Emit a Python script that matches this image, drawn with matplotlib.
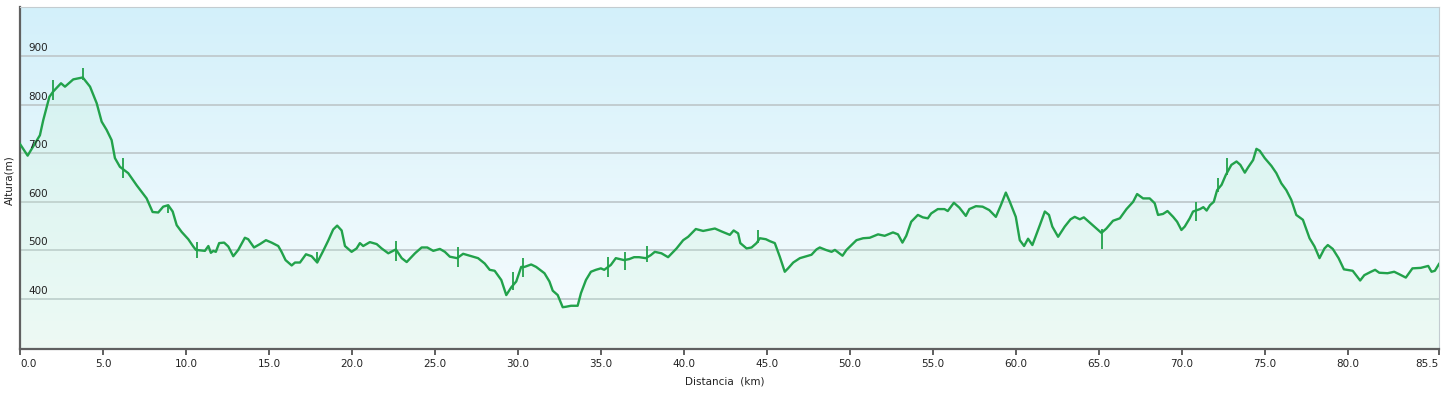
import numpy as np
import matplotlib
matplotlib.use("Agg")
from matplotlib import pyplot as plt
from matplotlib import transforms

# profile (km, m)
dist_km = [0.0, 0.46, 1.2, 1.4, 1.77, 2.0, 2.47, 2.71, 3.21, 3.78, 4.22, 4.62, 4.92, 5.22,
           5.52, 5.72, 6.02, 6.52, 7.03, 7.63, 7.99, 8.33, 8.63, 8.93, 9.2, 9.44, 9.74,
           10.14, 10.44, 10.6, 11.14, 11.35, 11.5, 11.65, 11.8, 12.0, 12.3, 12.55, 12.85,
           13.15, 13.55, 13.75, 14.1, 14.46, 14.82, 15.16, 15.56, 15.76, 16.0, 16.37, 16.57,
           16.87, 17.23, 17.57, 17.91, 18.27, 18.57, 18.87, 19.11, 19.38, 19.58, 19.98,
           20.28, 20.48, 20.68, 21.08, 21.49, 21.79, 22.19, 22.65, 23.0, 23.3, 23.8, 24.2,
           24.54, 24.9, 25.3, 25.6, 25.9, 26.34, 26.7, 27.1, 27.6, 28.0, 28.3, 28.6, 29.0,
           29.3, 29.6, 29.9, 30.2, 30.4, 30.8, 31.1, 31.6, 31.9, 32.1, 32.4, 32.7, 32.9,
           33.2, 33.6, 33.8, 34.1, 34.4, 34.7, 35.0, 35.2, 35.6, 35.9, 36.4, 36.7, 37.0,
           37.3, 37.7, 38.0, 38.25, 38.65, 39.05, 39.56, 39.96, 40.26, 40.72, 41.16, 41.87,
           42.27, 42.77, 43.0, 43.27, 43.4, 43.78, 44.08, 44.38, 44.58, 44.94, 45.18, 45.48,
           45.78, 46.08, 46.28, 46.59, 46.99, 47.39, 47.69, 47.99, 48.19, 48.55, 48.9, 49.1,
           49.56, 49.8, 50.4, 50.8, 51.2, 51.7, 52.1, 52.6, 52.9, 53.17, 53.4, 53.7, 54.1,
           54.4, 54.7, 54.9, 55.3, 55.7, 55.9, 56.27, 56.6, 56.99, 57.2, 57.6, 58.0, 58.4,
           58.8, 59.1, 59.4, 59.64, 60.0, 60.24, 60.5, 60.74, 61.0, 61.45, 61.75, 62.0,
           62.2, 62.55, 62.95, 63.3, 63.55, 63.86, 64.1, 64.4, 64.86, 65.16, 65.46, 65.86,
           66.27, 66.67, 67.07, 67.31, 67.67, 68.07, 68.37, 68.57, 68.87, 69.14, 69.48,
           69.72, 69.98, 70.18, 70.48, 70.68, 71.1, 71.3, 71.5, 71.7, 71.93, 72.13, 72.4,
           72.65, 72.99, 73.3, 73.53, 73.8, 74.0, 74.3, 74.5, 74.7, 75.0, 75.4, 75.7, 76.0,
           76.3, 76.6, 76.9, 77.3, 77.7, 78.0, 78.3, 78.6, 78.8, 79.1, 79.45, 79.77, 80.3,
           80.5, 80.75, 81.0, 81.4, 81.65, 81.9, 82.4, 82.8, 83.1, 83.5, 83.9, 84.4, 84.85,
           85.05, 85.25, 85.5]
alt_m = [719, 695, 737, 768, 816, 827, 844, 837, 852, 856, 837, 803, 765, 748,
         727, 690, 672, 659, 634, 607, 579, 578, 590, 593, 580, 552, 538,
         523, 508, 501, 499, 509, 495, 499, 497, 515, 516, 508, 488,
         501, 526, 523, 506, 513, 521, 516, 509, 497, 480, 469, 475,
         475, 492, 488, 475, 499, 520, 543, 551, 541, 509, 497,
         504, 515, 509, 517, 513, 504, 494, 502, 484, 476, 494, 506,
         506, 499, 503, 497, 487, 484, 493, 489, 484, 473, 460, 458, 439,
         408, 424, 436, 466, 466, 471, 466, 453, 436, 417, 408, 383, 384,
         386, 386, 412, 439, 456, 460, 463, 460, 470, 484, 480, 482, 486,
         486, 484, 490, 497, 494, 486, 504, 521, 528, 544, 540, 545,
         539, 532, 541, 535, 515, 504, 506, 515, 525, 523, 519, 515,
         487, 456, 463, 475, 484, 488, 491, 502, 506, 501, 497, 501,
         489, 501, 521, 525, 526, 533, 530, 537, 533, 516, 530, 559, 573,
         568, 566, 576, 585, 585, 581, 598, 588, 571, 585, 591, 590, 583,
         569, 593, 619, 600, 569, 521, 509, 524, 511, 552, 580, 573,
         549, 528, 549, 564, 569, 564, 568, 559, 545, 536, 545, 561,
         566, 585, 600, 616, 607, 607, 597, 573, 575, 581, 569,
         559, 542, 549, 566, 580, 585, 589, 582, 593, 600, 624, 635,
         655, 676, 683, 676, 660, 671, 686, 709, 705, 690, 674, 659, 638,
         624, 604, 573, 563, 525, 508, 484, 504, 511, 503, 484, 461, 458,
         449, 438, 449, 456, 460, 454, 453, 456, 451, 444, 463, 464, 468,
         456, 458, 472]

# GPS glitches (vertical strokes)
spike_km = [2.0, 3.78, 6.2, 8.9, 10.64, 17.91, 22.65, 26.4, 29.72, 30.28, 35.44, 36.45,
            37.75, 44.48, 65.22, 70.84, 72.2, 72.73]
spike_lo = [810, 850, 650, 577, 484, 475, 479, 466, 419, 446, 446, 460, 477, 515, 502, 561, 621, 655]
spike_hi = [850, 876, 690, 593, 518, 497, 520, 506, 456, 484, 487, 497, 508, 542, 543, 600, 648, 690]

x_ticks = [0, 5, 10, 15, 20, 25, 30, 35, 40, 45, 50, 55, 60, 65, 70, 75, 80, 85.5]
y_ticks = [400, 500, 600, 700, 800, 900]

line_col = '#22a24b'

fig = plt.figure(figsize=(14.49, 3.94), dpi=100, facecolor='white')
ax = fig.add_axes([20/1449, 1 - 349/394, 1419/1449, 342/394])
ax.set_xlim(0, 85.5)
ax.set_ylim(297, 1001)

# background gradient (light blue at top -> almost white at bottom)
top = np.array([211, 240, 250]) / 255
bot = np.array([249, 253, 254]) / 255
t = np.linspace(0, 1, 256)[:, None]
grad = (top * (1 - t) + bot * t)[:, None, :]
ax.imshow(grad, extent=[0, 85.5, 297, 1001], aspect='auto', zorder=0, origin='upper')

for y in y_ticks:
    ax.axhline(y, color='#c2ccd0', lw=1.4, zorder=1)

ax.fill_between(dist_km, alt_m, 297, color='#c6f2d2', alpha=0.22, lw=0, zorder=2)
ax.plot(dist_km, alt_m, color=line_col, lw=1.7, zorder=3, solid_joinstyle='round')
ax.vlines(spike_km, spike_lo, spike_hi, color=line_col, lw=1.3, zorder=3)

# y labels sit inside the plot, just above each gridline
trans = transforms.blended_transform_factory(ax.transAxes, ax.transData)
for y in y_ticks:
    ax.text(8/1419, y + 6, str(y), transform=trans, fontsize=7.5, color='#222222',
            ha='left', va='bottom')
ax.set_yticks([])

ax.set_xticks(x_ticks)
ax.set_xticklabels([f"{v:.1f}" for v in x_ticks], fontsize=7.5, color='#222222')
labels = ax.get_xticklabels()
labels[0].set_ha('left')
labels[-1].set_ha('right')
ax.tick_params(axis='x', length=4, width=1.2, color='#444444', pad=3)

ax.spines['left'].set_color('#606060')
ax.spines['left'].set_linewidth(1.6)
ax.spines['bottom'].set_color('#606060')
ax.spines['bottom'].set_linewidth(1.6)
ax.spines['top'].set_color('#c4ccd0')
ax.spines['right'].set_color('#c4ccd0')

fig.text(9/1449, 1 - 180/394, 'Altura(m)', rotation=90, fontsize=7.5, color='#222222',
         ha='center', va='center')
fig.text(725/1449, 1 - 382/394, 'Distancia  (km)', fontsize=7.5, color='#222222',
         ha='center', va='center')

fig.savefig('out.png', dpi=100, facecolor='white')
